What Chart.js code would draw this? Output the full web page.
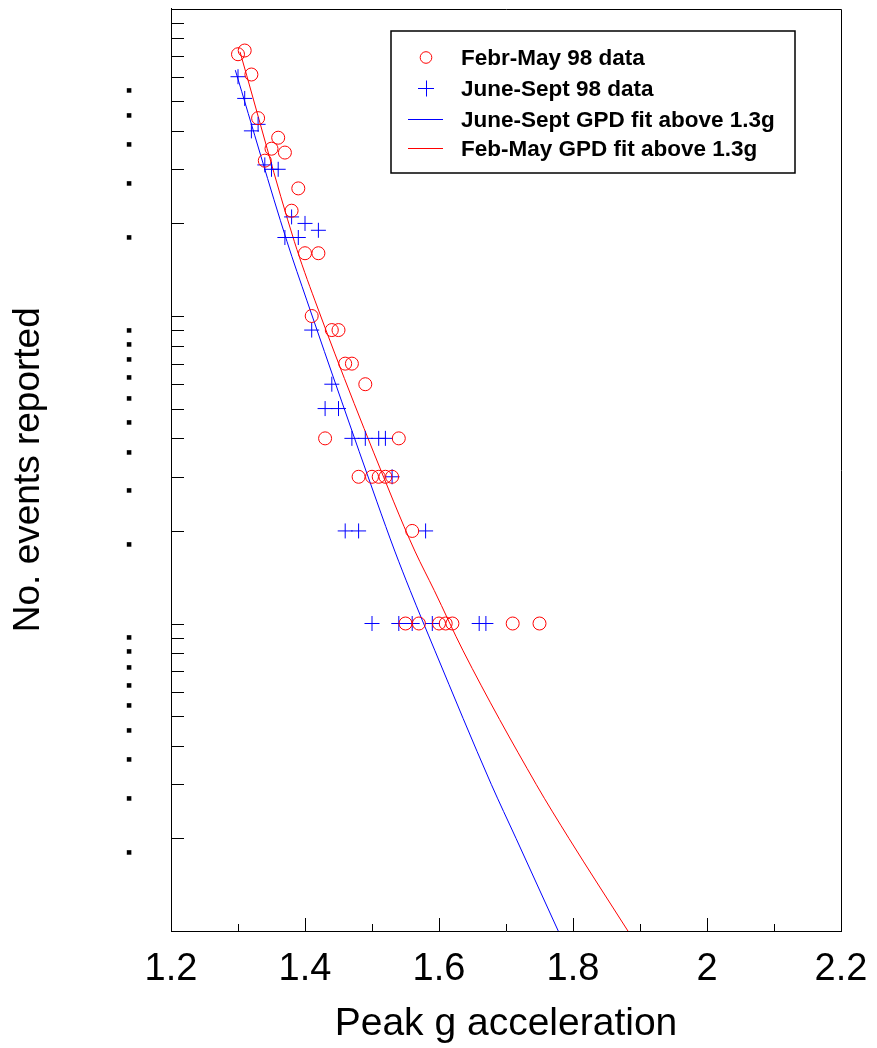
<!DOCTYPE html>
<html>
<head>
<meta charset="utf-8">
<script src="https://cdn.jsdelivr.net/npm/chart.js@4.4.0/dist/chart.umd.min.js"></script>
<style>
html, body { margin: 0; padding: 0; background: #fff; }
canvas { display: block; }
</style>
</head>
<body>
<canvas id="chart" width="877" height="1048"></canvas>
<script>
// Feb-May 98 data (peak g, no. of events)
const febX = [1.30, 1.31, 1.32, 1.33, 1.34, 1.35, 1.36, 1.37, 1.38, 1.39, 1.40, 1.42, 1.41, 1.44, 1.45, 1.46, 1.47,
    1.49, 1.43, 1.54, 1.48, 1.50, 1.51, 1.52, 1.53, 1.56, 1.55, 1.57, 1.60, 1.61, 1.62, 1.71, 1.75];
const febY = [71, 73, 61, 44, 32, 35, 38, 34, 22, 26, 16, 16, 10, 9, 9, 7, 7,
    6, 4, 4, 3, 3, 3, 3, 3, 2, 1, 1, 1, 1, 1, 1, 1];

// June-Sept 98 data
const junX = [1.30, 1.31, 1.32, 1.33, 1.34, 1.35, 1.36, 1.37, 1.38, 1.39, 1.40, 1.42, 1.41, 1.44, 1.43, 1.45,
    1.47, 1.49, 1.51, 1.52, 1.53, 1.46, 1.48, 1.58, 1.50, 1.54, 1.56, 1.59, 1.66, 1.67];
const junY = [60, 51, 40, 42, 31, 30, 30, 18, 21, 18, 20, 19, 9, 6, 5, 5,
    4, 4, 4, 4, 3, 2, 2, 2, 1, 1, 1, 1, 1, 1];

// GPD fit curves
const junFitX = [1.296, 1.373, 1.403, 1.507, 1.534, 1.557, 1.594, 1.678, 1.715, 1.778];
const junFitY = [63, 17.5, 11.2, 2.50, 1.72, 1.28, 0.815, 0.30, 0.20, 0.10];
const febFitX = [1.303, 1.384, 1.415, 1.532, 1.564, 1.593, 1.636, 1.745, 1.794, 1.882];
const febFitY = [72.3, 17.5, 11.2, 2.50, 1.72, 1.28, 0.815, 0.30, 0.20, 0.10];

// axis ticks
const xTickValues = [1.2, 1.3, 1.4, 1.5, 1.6, 1.7, 1.8, 1.9, 2.0, 2.1, 2.2];
const xTickLabels = ['1.2', '', '1.4', '', '1.6', '', '1.8', '', '2', '', '2.2'];
const yTickValues = [0.1, 0.2, 0.3, 0.4, 0.5, 0.6, 0.7, 0.8, 0.9,
    1, 2, 3, 4, 5, 6, 7, 8, 9, 10, 20, 30, 40, 50, 60, 70, 80, 90, 100];
const yTickLabels = ['', '■', '■', '■', '■', '■', '■', '■', '■',
    '■', '■', '■', '■', '■', '■', '■', '■', '■', '■', '■', '■', '■', '■', '■', '', '', '', ''];

const RED = 'rgb(255, 0, 0)';
const BLUE = 'rgb(0, 0, 255)';
const FONT = '"Liberation Sans", Arial, sans-serif';
const toPoints = (xs, ys) => xs.map((x, i) => ({ x: x, y: ys[i] }));

// inward tick marks, top/right frame and the boxed legend inside the plot
const frameAndLegend = {
    id: 'frameAndLegend',
    afterDraw(chart) {
        const ctx = chart.ctx;
        const area = chart.chartArea;
        const xs = chart.scales.x;
        const ys = chart.scales.y;
        ctx.save();
        ctx.strokeStyle = '#000';
        ctx.lineWidth = 1;
        ctx.beginPath();
        ctx.moveTo(area.left, Math.round(area.top) + 0.5);
        ctx.lineTo(Math.round(area.right) + 0.5, Math.round(area.top) + 0.5);
        ctx.lineTo(Math.round(area.right) + 0.5, area.bottom);
        xs.ticks.forEach(t => {
            const px = Math.round(xs.getPixelForValue(t.value)) + 0.5;
            const len = t.label ? 13 : 7;
            ctx.moveTo(px, area.bottom);
            ctx.lineTo(px, area.bottom - len);
        });
        ys.ticks.forEach(t => {
            const py = Math.round(ys.getPixelForValue(t.value)) + 0.5;
            ctx.moveTo(area.left, py);
            ctx.lineTo(area.left + 13, py);
        });
        ctx.stroke();

        // legend box
        const bx = Math.round(area.left + 220), by = Math.round(area.top + 22), bw = 404, bh = 142;
        ctx.lineWidth = 1.5;
        ctx.strokeRect(bx, by, bw, bh);
        const rows = [26, 57, 88, 117];
        const symX = bx + 35;
        ctx.font = 'bold 22.5px ' + FONT;
        ctx.textBaseline = 'middle';
        ctx.textAlign = 'left';
        chart.data.datasets.forEach((ds, i) => {
            const y = by + rows[i] + 0.5;
            ctx.strokeStyle = ds.borderColor;
            ctx.lineWidth = 1;
            ctx.beginPath();
            if (ds.showLine) {
                ctx.moveTo(bx + 17, y);
                ctx.lineTo(bx + 52, y);
            } else if (ds.pointStyle === 'cross') {
                ctx.moveTo(symX - 8, y);
                ctx.lineTo(symX + 8, y);
                ctx.moveTo(symX + 0.5, y - 8);
                ctx.lineTo(symX + 0.5, y + 8);
            } else {
                ctx.arc(symX, y, 5.8, 0, Math.PI * 2);
            }
            ctx.stroke();
            ctx.fillStyle = '#000';
            ctx.fillText(ds.label, bx + 70, y + 1);
        });
        ctx.restore();
    }
};

const ctx = document.getElementById('chart').getContext('2d');
const chart = new Chart(ctx, {
    type: 'scatter',
    data: {
        datasets: [{
            label: 'Febr-May 98 data',
            data: toPoints(febX, febY),
            showLine: false,
            pointStyle: 'circle',
            pointRadius: 6.5,
            borderColor: RED,
            backgroundColor: 'rgba(0,0,0,0)',
            borderWidth: 1
        }, {
            label: 'June-Sept 98 data',
            data: toPoints(junX, junY),
            showLine: false,
            pointStyle: 'cross',
            pointRadius: 7.5,
            borderColor: BLUE,
            backgroundColor: BLUE,
            borderWidth: 1
        }, {
            label: 'June-Sept GPD fit above 1.3g',
            data: toPoints(junFitX, junFitY),
            showLine: true,
            pointRadius: 0,
            borderColor: BLUE,
            borderWidth: 1,
            cubicInterpolationMode: 'monotone'
        }, {
            label: 'Feb-May GPD fit above 1.3g',
            data: toPoints(febFitX, febFitY),
            showLine: true,
            pointRadius: 0,
            borderColor: RED,
            borderWidth: 1,
            cubicInterpolationMode: 'monotone'
        }]
    },
    plugins: [frameAndLegend],
    options: {
        responsive: false,
        animation: false,
        layout: { padding: { top: 7, right: 36, left: 0, bottom: 0 } },
        plugins: {
            legend: { display: false },
            tooltip: { enabled: false }
        },
        scales: {
            x: {
                type: 'linear',
                min: 1.2,
                max: 2.2,
                afterBuildTicks: (scale) => { scale.ticks = xTickValues.map(v => ({ value: v })); },
                afterFit: (scale) => {
                    scale.height = 117;
                    scale.paddingLeft = 0;
                    scale.paddingRight = 0;
                },
                grid: { display: false, drawTicks: false },
                border: { display: true, color: '#000', width: 1 },
                ticks: {
                    autoSkip: false,
                    maxRotation: 0,
                    padding: 16,
                    color: '#000',
                    font: { family: FONT, size: 38 },
                    callback: (value, index) => xTickLabels[index]
                },
                title: {
                    display: true,
                    text: 'Peak g acceleration',
                    color: '#000',
                    font: { family: FONT, size: 39 },
                    padding: { top: 0, bottom: 0 }
                }
            },
            y: {
                type: 'logarithmic',
                min: 0.1,
                max: 100,
                afterBuildTicks: (scale) => { scale.ticks = yTickValues.map(v => ({ value: v })); },
                afterFit: (scale) => {
                    scale.width = 171;
                    scale.paddingTop = 0;
                    scale.paddingBottom = 0;
                },
                grid: { display: false, drawTicks: false },
                border: { display: true, color: '#000', width: 1 },
                ticks: {
                    autoSkip: false,
                    padding: 39,
                    labelOffset: 14,
                    color: '#000',
                    font: { family: '"DejaVu Sans", sans-serif', size: 6 },
                    callback: (value, index) => yTickLabels[index]
                },
                title: {
                    display: true,
                    text: 'No. events reported',
                    color: '#000',
                    font: { family: FONT, size: 37 },
                    padding: { top: 7, bottom: 0 }
                }
            }
        }
    }
});
</script>
</body>
</html>
